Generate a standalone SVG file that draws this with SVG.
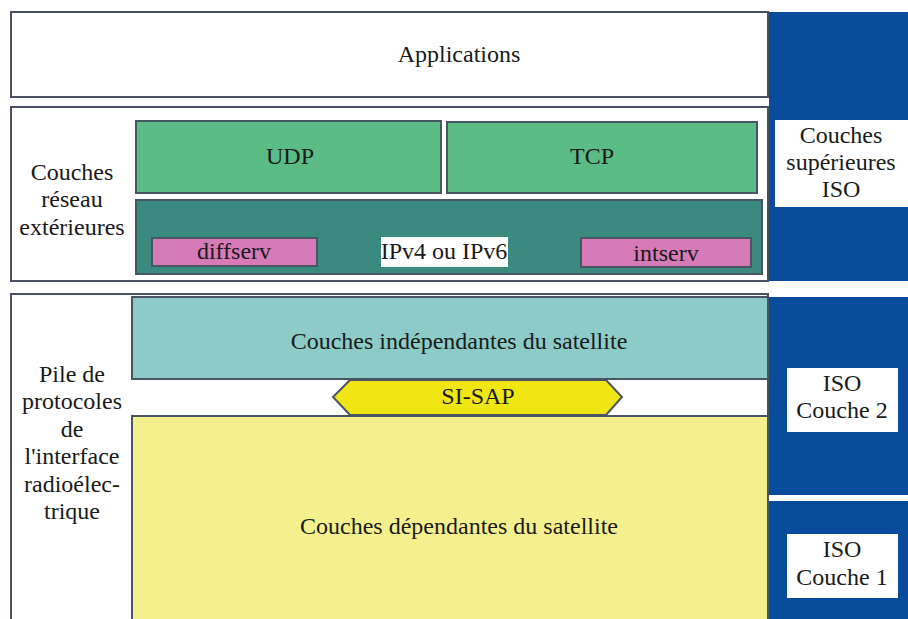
<svg xmlns="http://www.w3.org/2000/svg" width="908" height="619" viewBox="0 0 908 619">
<style>
text{font-family:"Liberation Serif","Times New Roman",serif;font-size:24px;fill:#1a1a1a;text-anchor:middle}
.frame{fill:#ffffff;stroke:#4a5060;stroke-width:2}
.blk{stroke:#4a5563;stroke-width:2}
.lab{fill:#ffffff}
</style>
<rect width="908" height="619" fill="#ffffff"/>
<g id="iso-column">
<rect x="769" y="12" width="139" height="269" fill="#0a4c9c"/>
<rect x="769" y="297" width="139" height="198" fill="#0a4c9c"/>
<rect x="769" y="501" width="139" height="118" fill="#0a4c9c"/>
</g>
<g id="applications">
<rect class="frame" x="11" y="12" width="757" height="85"/>
<text x="459" y="62">Applications</text>
</g>
<g id="reseau-exterieur">
<rect class="frame" x="11" y="107" width="757" height="174"/>
<text x="72" y="180">Couches</text>
<text x="72" y="207">réseau</text>
<text x="72" y="235">extérieures</text>
</g>
<g id="udp">
<rect class="blk" x="136" y="121" width="305" height="72" fill="#5cbc86"/>
<text x="290" y="164">UDP</text>
</g>
<g id="tcp">
<rect class="blk" x="447" y="122" width="310" height="71" fill="#5cbc86"/>
<text x="592" y="164">TCP</text>
</g>
<g id="ip">
<rect class="blk" x="136" y="200" width="626" height="74" fill="#3b8a80"/>
<rect class="lab" x="381" y="237" width="127" height="30"/>
<text x="444" y="259">IPv4 ou IPv6</text>
</g>
<g id="diffserv">
<rect class="blk" x="152" y="238" width="165" height="28" fill="#d77ab8"/>
<text x="234" y="259">diffserv</text>
</g>
<g id="intserv">
<rect class="blk" x="581" y="238" width="170" height="29" fill="#d77ab8"/>
<text x="666" y="261">intserv</text>
</g>
<g id="iso-sup">
<rect class="lab" x="775" y="120" width="133" height="87"/>
<text x="841" y="143">Couches</text>
<text x="841" y="170">supérieures</text>
<text x="841" y="197">ISO</text>
</g>
<g id="pile">
<rect class="frame" x="11" y="294" width="757" height="330"/>
<text x="72" y="382">Pile de</text>
<text x="72" y="409">protocoles</text>
<text x="72" y="437">de</text>
<text x="72" y="464">l'interface</text>
<text x="72" y="492">radioélec-</text>
<text x="72" y="519">trique</text>
</g>
<g id="si-independantes">
<rect class="blk" x="132" y="297" width="636" height="82" fill="#8ccbc7"/>
<text x="459" y="349">Couches indépendantes du satellite</text>
</g>
<g id="si-dependantes">
<rect class="blk" x="132" y="416" width="636" height="210" fill="#f5f08e"/>
<text x="459" y="534">Couches dépendantes du satellite</text>
</g>
<g id="si-sap">
<polygon class="blk" points="333,397 350,380 606,380 622,397 606,415 350,415" fill="#f0e614"/>
<text x="478" y="404">SI-SAP</text>
</g>
<g id="iso-2">
<rect class="lab" x="787" y="368" width="111" height="64"/>
<text x="842" y="391">ISO</text>
<text x="842" y="418">Couche 2</text>
</g>
<g id="iso-1">
<rect class="lab" x="787" y="534" width="111" height="64"/>
<text x="842" y="557">ISO</text>
<text x="842" y="585">Couche 1</text>
</g>
<g id="connectors"></g>
</svg>
